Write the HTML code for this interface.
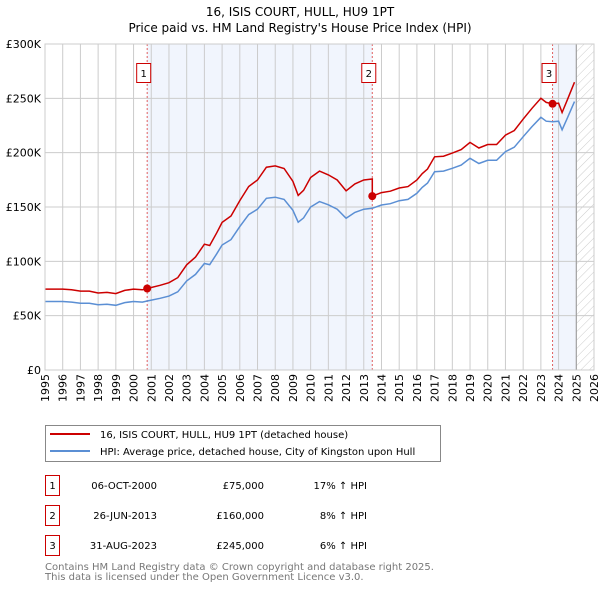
<!DOCTYPE html>
<html><head><meta charset="utf-8"><style>
body{margin:0;background:#fff;width:600px;height:590px;overflow:hidden;font-family:"DejaVu Sans","Liberation Sans",sans-serif}
svg text{font-family:"DejaVu Sans","Liberation Sans",sans-serif}
</style></head><body>
<svg id="c" width="600" height="590" xmlns="http://www.w3.org/2000/svg">
<defs><pattern id="hatch" width="6" height="6" patternUnits="userSpaceOnUse" patternTransform="rotate(45)"><line x1="0" y1="0" x2="0" y2="6" stroke="#ccc" stroke-width="1"/></pattern></defs>
<text x="300" y="16" text-anchor="middle" font-size="12" fill="#000">16, ISIS COURT, HULL, HU9 1PT</text>
<text x="300" y="32" text-anchor="middle" font-size="12" fill="#000">Price paid vs. HM Land Registry's House Price Index (HPI)</text>
<g id="plot"></g>
<g>
<rect x="45.5" y="425.5" width="395" height="36" fill="#fff" stroke="#888"/>
<line x1="50" y1="434" x2="90" y2="434" stroke="#cc0000" stroke-width="2"/>
<text x="100" y="438" font-size="10">16, ISIS COURT, HULL, HU9 1PT (detached house)</text>
<line x1="50" y1="451" x2="90" y2="451" stroke="#5b8fd4" stroke-width="2"/>
<text x="100" y="455" font-size="10">HPI: Average price, detached house, City of Kingston upon Hull</text>
</g>
<g font-size="10">
<rect x="45.5" y="475.5" width="14" height="20" fill="#fff" stroke="#cc0000"/><text x="52.5" y="489" text-anchor="middle">1</text>
<text x="157" y="489" text-anchor="end">06-OCT-2000</text><text x="264" y="489" text-anchor="end">£75,000</text><text x="367" y="489" text-anchor="end">17% ↑ HPI</text>
<rect x="45.5" y="505.5" width="14" height="20" fill="#fff" stroke="#cc0000"/><text x="52.5" y="519" text-anchor="middle">2</text>
<text x="157" y="519" text-anchor="end">26-JUN-2013</text><text x="264" y="519" text-anchor="end">£160,000</text><text x="367" y="519" text-anchor="end">8% ↑ HPI</text>
<rect x="45.5" y="535.5" width="14" height="20" fill="#fff" stroke="#cc0000"/><text x="52.5" y="549" text-anchor="middle">3</text>
<text x="157" y="549" text-anchor="end">31-AUG-2023</text><text x="264" y="549" text-anchor="end">£245,000</text><text x="367" y="549" text-anchor="end">6% ↑ HPI</text>
</g>
<text x="45" y="570" font-size="10" fill="#777">Contains HM Land Registry data © Crown copyright and database right 2025.</text>
<text x="45" y="580" font-size="10" fill="#777">This data is licensed under the Open Government Licence v3.0.</text>
</svg>
<script>
const hpiYears=[1995,1995.5,1996,1996.5,1997,1997.5,1998,1998.5,1999,1999.5,2000,2000.5,2000.77,2001.5,2002,2002.5,2003,2003.5,2004,2004.3,2004.7,2005,2005.5,2006,2006.5,2007,2007.5,2008,2008.5,2009,2009.3,2009.6,2010,2010.5,2011,2011.5,2012,2012.5,2013,2013.48,2014,2014.5,2015,2015.5,2016,2016.3,2016.6,2017,2017.5,2018,2018.5,2019,2019.5,2020,2020.5,2021,2021.5,2022,2022.5,2023,2023.3,2023.66,2024,2024.2,2024.5,2024.9];
const hpiValues=[63,63,63,62.5,61.5,61.5,60,60.5,59.5,62,63,62.5,63.5,66,68,72,82,88,98,97,107,115,120,132,143,148,158,159,157,147,136,140,150,155,152,148,139.6,145,148,148.8,151.8,153,155.8,157,162.6,168,172,182.5,183,185.6,188.6,194.8,190,193,193,201,205,214.7,224,232.5,229,228.5,229,221,232,247];
const sales=[{year:2000.77,price:75,label:"1"},{year:2013.48,price:160,label:"2"},{year:2023.66,price:245,label:"3"}];
const yTicks=[0,50,100,150,200,250,300];
const yTickLabels=["£0","£50K","£100K","£150K","£200K","£250K","£300K"];
const xTicks=[1995,1996,1997,1998,1999,2000,2001,2002,2003,2004,2005,2006,2007,2008,2009,2010,2011,2012,2013,2014,2015,2016,2017,2018,2019,2020,2021,2022,2023,2024,2025,2026];

const L=45,R=594,T=44,B=370;
const X=y=>L+(y-1995)/(2026-1995)*(R-L);
const Y=v=>B-v/300*(B-T);
const NS="http://www.w3.org/2000/svg";
const g=document.getElementById('plot');
function mk(tag,attrs,parent){const e=document.createElementNS(NS,tag);for(const k in attrs)e.setAttribute(k,attrs[k]);(parent||g).appendChild(e);return e;}
function hpiAt(t){for(let i=0;i<hpiYears.length-1;i++){if(t<=hpiYears[i+1]){const f=(t-hpiYears[i])/(hpiYears[i+1]-hpiYears[i]);return hpiValues[i]+f*(hpiValues[i+1]-hpiValues[i]);}}return hpiValues[hpiValues.length-1];}
// shading
let s=mk('rect',{x:X(sales[0].year),y:T,width:X(sales[1].year)-X(sales[0].year),height:B-T,fill:'#eef3fd',opacity:0.8});

s=mk('rect',{x:X(sales[2].year),y:T,width:X(2025)-X(sales[2].year),height:B-T,fill:'#eef3fd',opacity:0.8});

s=mk('rect',{x:X(2025),y:T,width:R-X(2025),height:B-T,fill:'url(#hatch)'});

// grid
xTicks.forEach(t=>{const l=mk('line',{x1:X(t),x2:X(t),y1:T,y2:B,stroke:'#ccc','stroke-width':1});
const tx=mk('text',{x:0,y:0,'font-size':11,'text-anchor':'end',transform:`translate(${X(t)+4},${B+4}) rotate(-90)`});tx.textContent=t;});
yTicks.forEach((v,i)=>{const l=mk('line',{x1:L,x2:R,y1:Y(v),y2:Y(v),stroke:'#ccc','stroke-width':1});
const tx=mk('text',{x:L-4,y:Y(v)+4,'font-size':11,'text-anchor':'end'});tx.textContent=yTickLabels[i];});
let ln=mk('line',{x1:X(2025),x2:X(2025),y1:T,y2:B,stroke:'#999','stroke-width':1});
// sale lines
sales.forEach(sl=>{const l=mk('line',{x1:X(sl.year),x2:X(sl.year),y1:T,y2:B,stroke:'#e06060','stroke-width':1,'stroke-dasharray':'2,2'});});
// HPI line
let d=hpiYears.map((t,i)=>(i?'L':'M')+X(t).toFixed(1)+','+Y(hpiValues[i]).toFixed(1)).join('');
let p=mk('path',{d:d,fill:'none',stroke:'#5b8fd4','stroke-width':1.5});
// property line
const r0=sales[0].price/hpiAt(sales[0].year),r1=sales[1].price/hpiAt(sales[1].year),r2=sales[2].price/hpiAt(sales[2].year);
let pts=[];
hpiYears.forEach((t,i)=>{if(t<sales[1].year)pts.push([t,hpiValues[i]*r0]);});
pts.push([sales[1].year,hpiAt(sales[1].year)*r0]);pts.push([sales[1].year,sales[1].price]);
hpiYears.forEach((t,i)=>{if(t>sales[1].year&&t<sales[2].year)pts.push([t,hpiValues[i]*r1]);});
pts.push([sales[2].year,sales[2].price]);
hpiYears.forEach((t,i)=>{if(t>sales[2].year)pts.push([t,hpiValues[i]*r2]);});
d=pts.map((q,i)=>(i?'L':'M')+X(q[0]).toFixed(1)+','+Y(q[1]).toFixed(1)).join('');
p=mk('path',{d:d,fill:'none',stroke:'#cc0000','stroke-width':1.5});
sales.forEach(sl=>{const c=mk('circle',{cx:X(sl.year),cy:Y(sl.price),r:4,fill:'#cc0000'});
const b=mk('rect',{x:X(sl.year)-10.5,y:63.5,width:14,height:19,fill:'#fff',stroke:'#cc0000'});
const tx=mk('text',{x:X(sl.year)-3.5,y:77,'font-size':10,'text-anchor':'middle'});tx.textContent=sl.label;});
const fr=mk('rect',{x:L,y:T,width:R-L,height:B-T,fill:'none',stroke:'#ccc'});
</script>
</body></html>
